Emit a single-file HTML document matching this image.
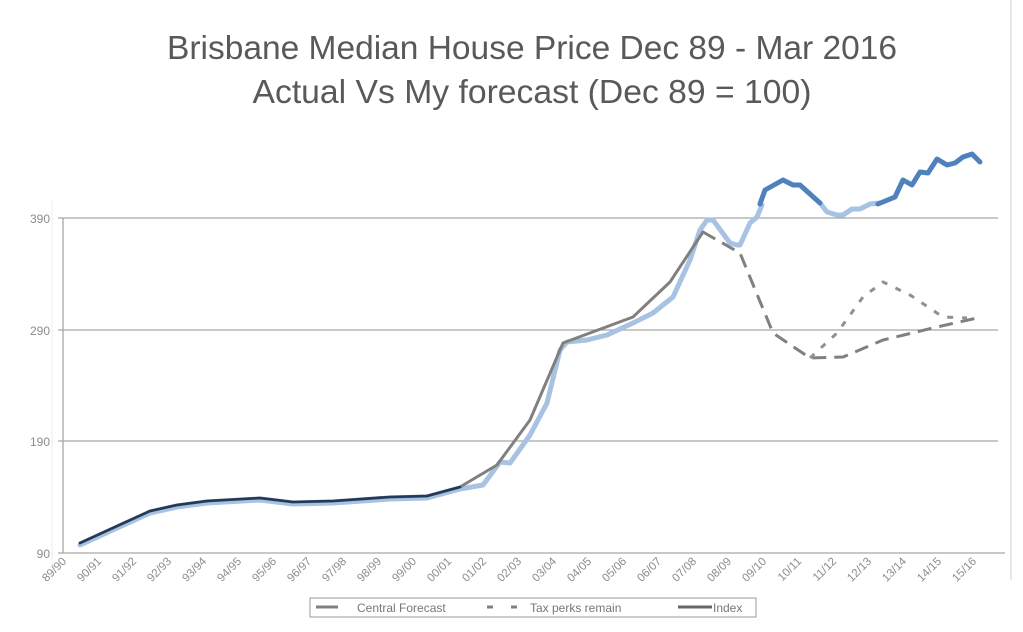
<!DOCTYPE html>
<html><head><meta charset="utf-8"><style>
html,body{margin:0;padding:0;background:#fff;}
svg{display:block;font-family:"Liberation Sans",sans-serif;}
</style></head><body>
<svg width="1023" height="632" viewBox="0 0 1023 632" xmlns="http://www.w3.org/2000/svg">
<rect width="1023" height="632" fill="#fff"/>
<line x1="52" y1="200" x2="52" y2="580" stroke="#eee" stroke-width="1"/>
<line x1="1011" y1="0" x2="1011" y2="580" stroke="#e8e8e8" stroke-width="2"/>
<text x="532" y="59" font-size="33" fill="#595959" text-anchor="middle" textLength="730" lengthAdjust="spacingAndGlyphs">Brisbane Median House Price Dec 89 - Mar 2016</text>
<text x="532" y="103" font-size="33" fill="#595959" text-anchor="middle" textLength="559" lengthAdjust="spacingAndGlyphs">Actual Vs  My forecast (Dec 89 = 100)</text>
<g stroke="#a6a6a6" stroke-width="1.3">
<line x1="58" y1="218" x2="998" y2="218"/>
<line x1="58" y1="330" x2="998" y2="330"/>
<line x1="58" y1="441" x2="998" y2="441"/>
<line x1="58" y1="553" x2="1005" y2="553"/>
<line x1="63" y1="218" x2="63" y2="553"/>
</g>
<g font-size="12" fill="#8c8c8c" text-anchor="end">
<text x="50" y="223">390</text><text x="50" y="335">290</text><text x="50" y="446">190</text><text x="50" y="558">90</text>
</g>
<g font-size="11.5" fill="#8c8c8c" text-anchor="end">
<g transform="translate(67,562) rotate(-45)"><text>89/90</text></g>
<g transform="translate(102,562) rotate(-45)"><text>90/91</text></g>
<g transform="translate(137,562) rotate(-45)"><text>91/92</text></g>
<g transform="translate(172,562) rotate(-45)"><text>92/93</text></g>
<g transform="translate(207,562) rotate(-45)"><text>93/94</text></g>
<g transform="translate(242,562) rotate(-45)"><text>94/95</text></g>
<g transform="translate(277,562) rotate(-45)"><text>95/96</text></g>
<g transform="translate(312,562) rotate(-45)"><text>96/97</text></g>
<g transform="translate(347,562) rotate(-45)"><text>97/98</text></g>
<g transform="translate(382,562) rotate(-45)"><text>98/99</text></g>
<g transform="translate(417,562) rotate(-45)"><text>99/00</text></g>
<g transform="translate(452,562) rotate(-45)"><text>00/01</text></g>
<g transform="translate(487,562) rotate(-45)"><text>01/02</text></g>
<g transform="translate(522,562) rotate(-45)"><text>02/03</text></g>
<g transform="translate(557,562) rotate(-45)"><text>03/04</text></g>
<g transform="translate(592,562) rotate(-45)"><text>04/05</text></g>
<g transform="translate(627,562) rotate(-45)"><text>05/06</text></g>
<g transform="translate(662,562) rotate(-45)"><text>06/07</text></g>
<g transform="translate(697,562) rotate(-45)"><text>07/08</text></g>
<g transform="translate(732,562) rotate(-45)"><text>08/09</text></g>
<g transform="translate(767,562) rotate(-45)"><text>09/10</text></g>
<g transform="translate(802,562) rotate(-45)"><text>10/11</text></g>
<g transform="translate(837,562) rotate(-45)"><text>11/12</text></g>
<g transform="translate(872,562) rotate(-45)"><text>12/13</text></g>
<g transform="translate(907,562) rotate(-45)"><text>13/14</text></g>
<g transform="translate(942,562) rotate(-45)"><text>14/15</text></g>
<g transform="translate(977,562) rotate(-45)"><text>15/16</text></g>
</g>
<g fill="none" stroke-linejoin="round" stroke-linecap="round">
<polyline stroke="#a7c2e2" stroke-width="5" points="80,545 150,513 177,507 207,503 260,500 293,504 333,503 390,499 427,498 460,489 483,485 500,462 510,463 530,435 547,403 560,350 567,342 587,340 607,335 633,323 653,313 673,297 690,260 700,230 707,220 713,220 730,243 737,245 740,245 750,223 757,217 762,205"/>
<polyline stroke="#a7c2e2" stroke-width="5" points="820,203 827,212 837,215 843,215 852,209 860,209 870,204 880,203"/>
<polyline stroke="#4f81bd" stroke-width="5" points="760,204 765,190 783,180 793,185 800,185 820,203"/>
<polyline stroke="#4f81bd" stroke-width="5" points="878,204 895,197 903,180 912,185 920,172 928,173 937,159 947,165 955,163 963,157 972,154 980,162"/>
<polyline stroke="#808080" stroke-width="3" points="80,543 150,511 177,505 207,501 260,498 293,502 333,501 390,497 427,496 460,487 497,465 530,420 563,343 633,317 670,282 703,232"/>
<polyline stroke="#1f3a5c" stroke-width="2.5" points="80,543 150,511 177,505 207,501 260,498 293,502 333,501 390,497 427,496 460,487"/>
<polyline stroke="#808080" stroke-width="3" stroke-dasharray="14,8" stroke-linecap="butt" points="703,232 740,253 773,333 810,358 843,357 883,340 937,327 977,318"/>
<polyline stroke="#909090" stroke-width="3" stroke-dasharray="6,9" stroke-linecap="butt" points="810,358 837,333 863,297 883,282 910,295 943,317 967,318"/>
</g>
<rect x="310" y="598" width="446" height="19" fill="#fff" stroke="#999" stroke-width="1"/>
<line x1="316" y1="607" x2="338" y2="607" stroke="#808080" stroke-width="3"/>
<text x="357" y="612" font-size="12" fill="#777">Central Forecast</text>
<line x1="487" y1="607" x2="493" y2="607" stroke="#808080" stroke-width="3"/>
<line x1="511" y1="607" x2="517" y2="607" stroke="#808080" stroke-width="3"/>
<text x="530" y="612" font-size="12" fill="#777">Tax perks remain</text>
<line x1="678" y1="607" x2="712" y2="607" stroke="#666" stroke-width="3"/>
<text x="713" y="612" font-size="12" fill="#777">Index</text>
</svg>
</body></html>
